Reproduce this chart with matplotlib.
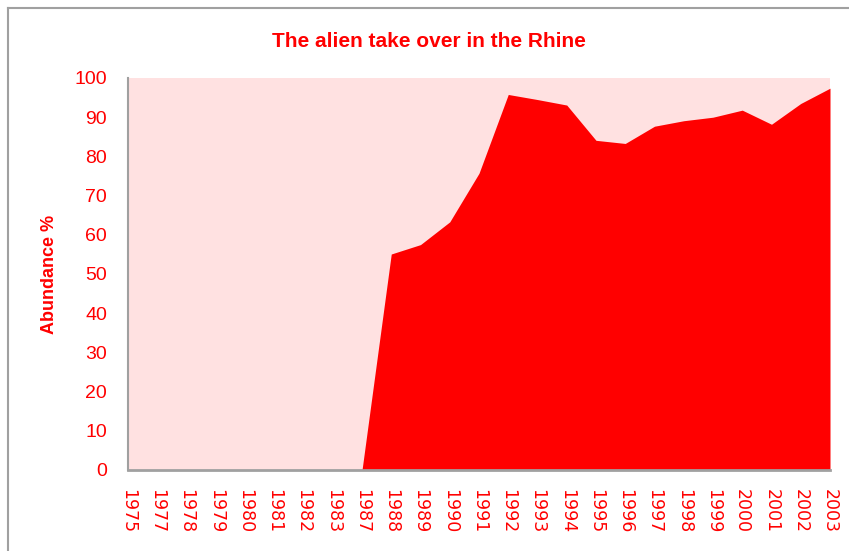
import matplotlib
matplotlib.use('Agg')
import matplotlib.pyplot as plt
from matplotlib.lines import Line2D

# years shown on the category axis
years = ['1975', '1977', '1978', '1979', '1980', '1981', '1982', '1983', '1987',
         '1988', '1989', '1990', '1991', '1992', '1993', '1994', '1995', '1996',
         '1997', '1998', '1999', '2000', '2001', '2002', '2003']
# abundance of alien species, %
abundance = [0, 0, 0, 0, 0, 0, 0, 0, 0,
             55.1, 57.5, 63.3, 75.7, 95.8, 94.5, 93.1, 84.1, 83.3,
             87.7, 89.1, 90.0, 91.8, 88.2, 93.5, 97.4]

red = '#FF0000'
plt.rcParams['font.family'] = ['Liberation Sans', 'DejaVu Sans']

fig = plt.figure(figsize=(8.49, 5.51), dpi=100)
ax = fig.add_axes([128 / 849, 1 - 470 / 551, 702 / 849, 392 / 551])

x = list(range(len(years)))
ax.set_facecolor('#FFE1E1')
ax.fill_between(x, 0, abundance, color=red, linewidth=0)

ax.set_xlim(0, len(years) - 1)
ax.set_ylim(0, 100)
ax.set_yticks(range(0, 101, 10))
ax.set_xticks(x)
ax.set_xticklabels(years, rotation=270, family='DejaVu Sans', fontsize=12.5, color=red)
ax.tick_params(axis='y', labelsize=14, labelcolor=red, length=0, pad=15)
ax.tick_params(axis='x', length=0, pad=14)

for s in ['top', 'right']:
    ax.spines[s].set_visible(False)
ax.spines['left'].set_color('#A0A0A0')
ax.spines['left'].set_linewidth(1.5)
ax.spines['bottom'].set_color('#A0A0A0')
ax.spines['bottom'].set_linewidth(2)

ax.set_ylabel('Abundance %', color=red, fontsize=13, fontweight='bold', labelpad=12)
fig.text(0.505, 0.925, 'The alien take over in the Rhine', color=red, fontsize=15,
         fontweight='bold', ha='center', va='center')

# chart border (only top and left edges fall inside the picture)
fig.lines.append(Line2D([8 / 849, 1], [1 - 8 / 551, 1 - 8 / 551], transform=fig.transFigure,
                        color='#A0A0A0', linewidth=1.5))
fig.lines.append(Line2D([8 / 849, 8 / 849], [0, 1 - 8 / 551], transform=fig.transFigure,
                        color='#A0A0A0', linewidth=1.5))

fig.savefig('out.png', dpi=100)
